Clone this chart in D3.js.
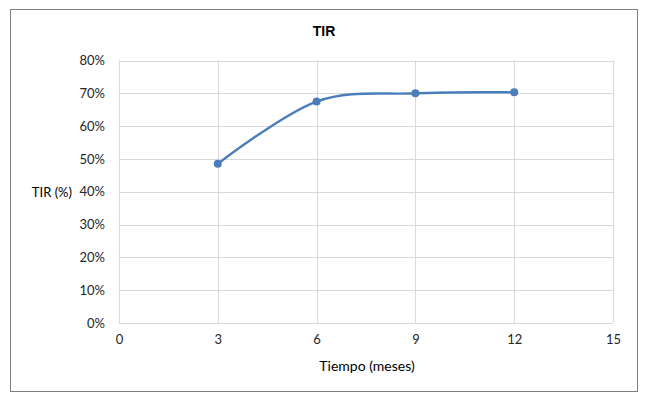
<!DOCTYPE html>
<html><head><meta charset="utf-8">
<script src="https://cdn.jsdelivr.net/npm/d3@7"></script>
<style>body{margin:0;background:#fff}svg{display:block}</style>
</head><body>
<svg id="c" width="650" height="400"></svg>
<script>
const months = [3, 6, 9, 12];
const tir = [0.485, 0.675, 0.700, 0.703];
const xTicks = [0, 3, 6, 9, 12, 15];
const yTicks = [0, 0.1, 0.2, 0.3, 0.4, 0.5, 0.6, 0.7, 0.8];
const title = "TIR";
const xTitle = "Tiempo (meses)";
const yTitle = "TIR (%)";

const svg = d3.select("#c");
const font = "Lato, 'Liberation Sans', sans-serif";
svg.append("rect").attr("x",10.5).attr("y",9.5).attr("width",627).attr("height",382)
  .attr("fill","#fff").attr("stroke","#7f7f7f").attr("stroke-width",1);

const x = d3.scaleLinear().domain([0,15]).range([119,613]);
const y = d3.scaleLinear().domain([0,0.8]).range([323,60.5]);

const g = svg.append("g");
g.selectAll(".hg").data(yTicks).join("line")
  .attr("x1",x(0)).attr("x2",x(15)).attr("y1",d=>Math.round(y(d))+0.5).attr("y2",d=>Math.round(y(d))+0.5)
  .attr("stroke","#d9d9d9");
g.selectAll(".vg").data(xTicks).join("line")
  .attr("y1",y(0)).attr("y2",y(0.8)).attr("x1",d=>Math.round(x(d))+0.5).attr("x2",d=>Math.round(x(d))+0.5)
  .attr("stroke","#d9d9d9");

const yAxis = d3.axisLeft(y).tickValues(yTicks).tickFormat(d3.format(".0%")).tickSize(0).tickPadding(14);
const ya = svg.append("g").attr("transform",`translate(${x(0)},0)`).call(yAxis);
ya.select(".domain").remove();
ya.selectAll("text").attr("font-family",font).attr("font-size",13).attr("fill","#262626");

const xAxis = d3.axisBottom(x).tickValues(xTicks).tickSize(0).tickPadding(12);
const xa = svg.append("g").attr("transform",`translate(0,${y(0)})`).call(xAxis);
xa.select(".domain").remove();
xa.selectAll("text").attr("font-family",font).attr("font-size",13).attr("fill","#262626");

const data = months.map((m,i)=>({m, v:tir[i]}));
const line = d3.line().x(d=>x(d.m)).y(d=>y(d.v)).curve(d3.curveCatmullRom.alpha(0));
svg.append("path").datum(data).attr("d",line).attr("fill","none")
  .attr("stroke","#4a7ebb").attr("stroke-width",2.4);
svg.selectAll(".pt").data(data).join("circle")
  .attr("cx",d=>x(d.m)).attr("cy",d=>y(d.v)).attr("r",4).attr("fill","#4a7ebb");

svg.append("text").attr("x",324).attr("y",36).attr("text-anchor","middle")
  .attr("font-family","'Liberation Sans', Arial, sans-serif").attr("font-weight","bold").attr("font-size",14)
  .attr("fill","#000").text(title);
svg.append("text").attr("x",367).attr("y",371).attr("text-anchor","middle")
  .attr("font-family",font).attr("font-size",14).attr("fill","#000").text(xTitle);
svg.append("text").attr("x",72).attr("y",197).attr("text-anchor","end")
  .attr("font-family",font).attr("font-size",13).attr("fill","#000").text(yTitle);
</script>
</body></html>
